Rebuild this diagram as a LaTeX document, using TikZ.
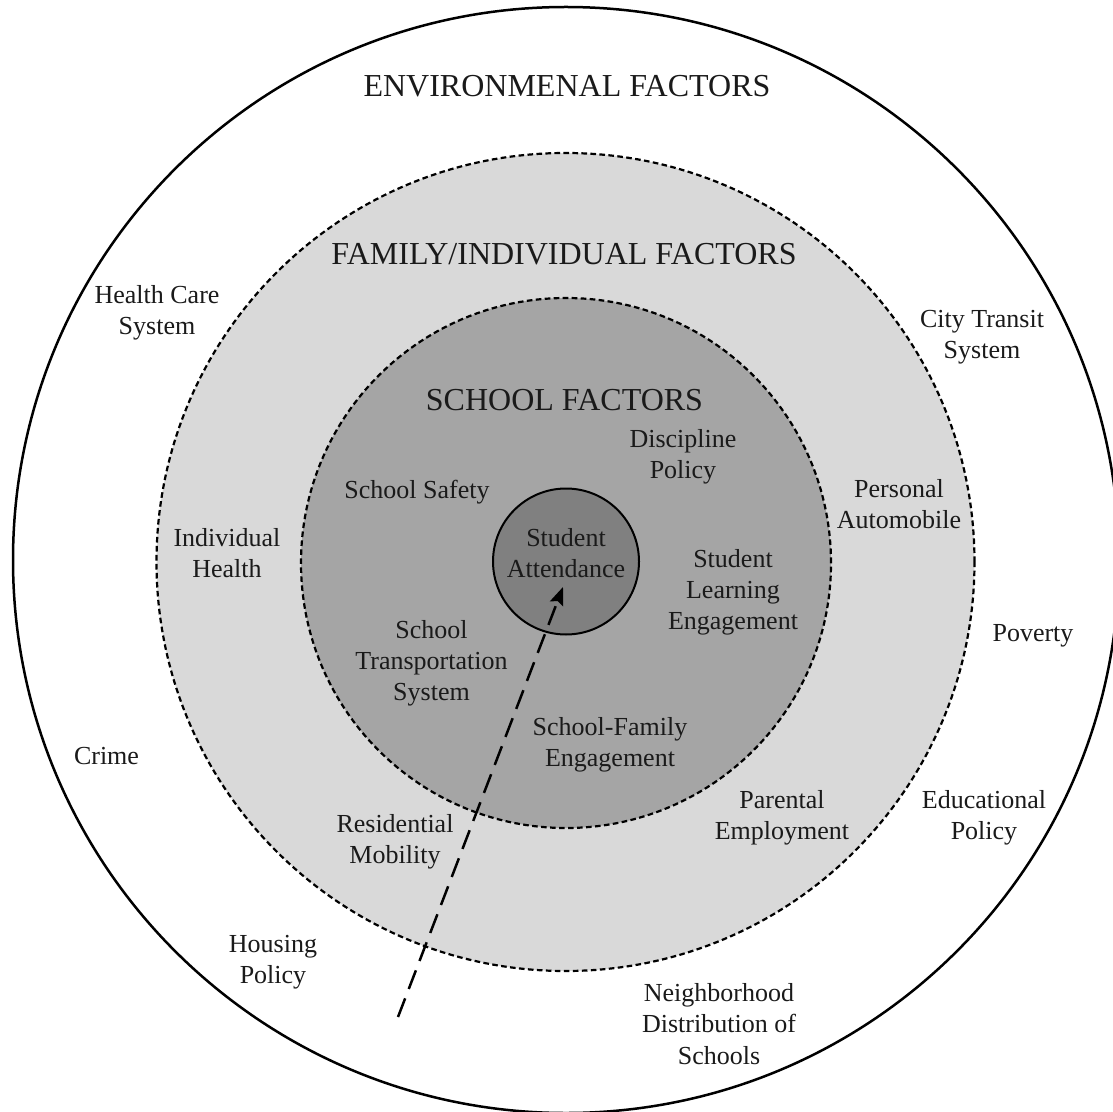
\documentclass[tikz,border=0pt]{standalone}
\usepackage{fontspec}
\setmainfont{Liberation Serif}
\usetikzlibrary{arrows.meta}

\definecolor{familygray}{HTML}{D9D9D9}
\definecolor{schoolgray}{HTML}{A5A5A5}
\definecolor{coregray}{HTML}{808080}
\definecolor{inktext}{HTML}{1A1A1A}

\tikzset{
  ring/.style={circle, inner sep=0pt, outer sep=0pt},
  dashring/.style={ring, draw=black, line width=1.1pt, dash pattern=on 2.8pt off 1.7pt},
  heading/.style={text=inktext, font=\fontsize{16}{19}\selectfont},
  factor/.style={text=inktext, align=center, inner sep=0pt, font=\fontsize{13}{15.6}\selectfont},
  pathway/.style={line width=1.25pt, dash pattern=on 10pt off 5pt,
    -{Stealth[length=9pt, width=7pt, inset=1.5pt]}}
}

\begin{document}
\begin{tikzpicture}[x=0.5pt, y=-0.5pt]
  \useasboundingbox (0,0) rectangle (1113,1112);
  \clip (0,0) rectangle (1113,1112);

  % nested spheres of influence
  \node[ring, draw=black, fill=white, line width=1.25pt, minimum size=553pt] (env) at (566,560) {};
  \node[dashring, fill=familygray, minimum size=409pt] (family) at (565.5,562) {};
  \node[dashring, fill=schoolgray, minimum size=265pt] (school) at (566,563) {};
  \node[ring, draw=black, fill=coregray, line width=1pt, minimum size=73pt] (core) at (566,561.5) {};

  % layer headings
  \node[heading] (envtitle) at (567,86) {ENVIRONMENAL FACTORS};
  \node[heading] (famtitle) at (564,254) {FAMILY/INDIVIDUAL FACTORS};
  \node[heading] (schtitle) at (564.5,400) {SCHOOL FACTORS};

  % core outcome
  \node[factor] (attend) at (566,553) {Student\\Attendance};

  % school factors
  \node[factor] (discipline) at (683,457) {Discipline\\Policy};
  \node[factor] (safety) at (417,492) {School Safety};
  \node[factor] (learning) at (733,592) {Student\\Learning\\Engagement};
  \node[factor] (transport) at (431.5,663) {School\\Transportation\\System};
  \node[factor] (schfam) at (610,745) {School-Family\\Engagement};

  % family / individual factors
  \node[factor] (auto) at (899,504) {Personal\\Automobile};
  \node[factor] (health) at (227,553) {Individual\\Health};
  \node[factor] (employ) at (782,818) {Parental\\Employment};
  \node[factor] (mobility) at (395,842) {Residential\\Mobility};

  % environmental factors
  \node[factor] (care) at (157,313) {Health Care\\System};
  \node[factor] (transit) at (982,337) {City Transit\\System};
  \node[factor] (poverty) at (1033,636) {Poverty};
  \node[factor] (crime) at (106.5,756) {Crime};
  \node[factor] (edpolicy) at (984,818) {Educational\\Policy};
  \node[factor] (housing) at (273,962) {Housing\\Policy};
  \node[factor] (neighbor) at (719,1024) {Neighborhood\\Distribution of\\Schools};

  % pathway into the core
  \coordinate (tail) at (398,1017);
  \coordinate (head) at (563,587);
  \draw[pathway] (tail) -- (head);
\end{tikzpicture}
\end{document}
